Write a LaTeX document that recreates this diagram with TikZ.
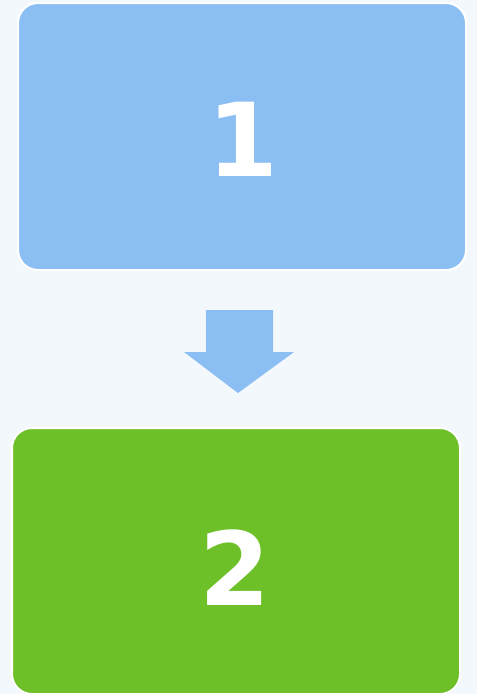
\documentclass[tikz,border=0pt]{standalone}
\usepackage{fontspec}
\setmainfont{DejaVu Sans}
\definecolor{bgc}{HTML}{F3F8FD}
\definecolor{boxblue}{HTML}{8BBEF2}
\definecolor{boxgreen}{HTML}{6EC028}
\begin{document}
\begin{tikzpicture}[x=1pt,y=-1pt,
  card/.style={draw=white, line width=2pt, rounded corners=20pt, minimum width=448pt, inner sep=0pt},
  digit/.style={text=white, font=\bfseries\fontsize{102}{102}\selectfont, inner sep=0pt},
  blockarrow/.style={fill=boxblue, draw=none}]
\fill[bgc] (0,0) rectangle (477,694);
\useasboundingbox (0,0) rectangle (477,694);
\node[card, fill=boxblue, minimum height=267pt] (one) at (242,136.5) {};
\node[card, fill=boxgreen, minimum height=266pt] (two) at (236,561) {};
\node[digit] (t1) at (243,139.5) {1};
\node[digit] (t2) at (235,567.5) {2};
\coordinate (atop) at (239,310);
\fill[blockarrow] (atop) ++(-33,0) -- ++(67,0) -- ++(0,42) -- ++(21,0) -- (238,393) -- (184,352) -- (206,352) -- cycle;
\end{tikzpicture}
\end{document}
